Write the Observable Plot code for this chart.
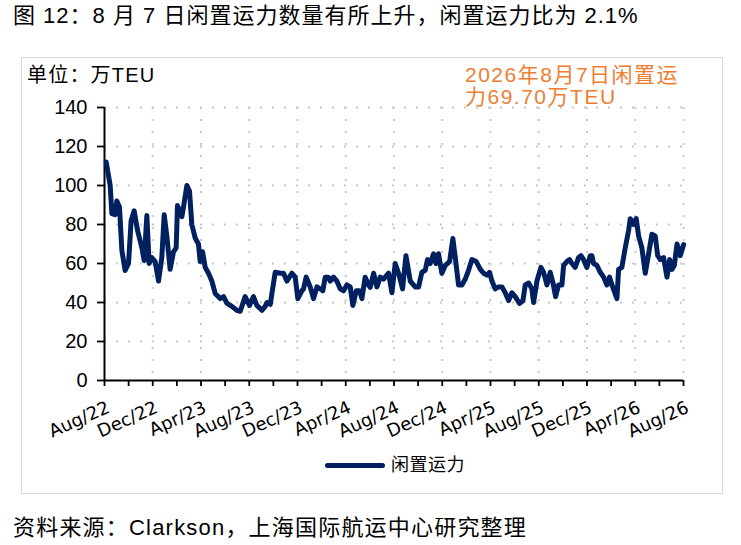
<!DOCTYPE html>
<html>
<head>
<meta charset="utf-8">
<script src="https://cdn.jsdelivr.net/npm/d3@7"></script>
<script src="https://cdn.jsdelivr.net/npm/@observablehq/plot@0.6"></script>
<style>
  html, body { margin: 0; padding: 0; background: #fff; }
  #page { position: relative; width: 741px; height: 545px; background: #fff; overflow: hidden;
          font-family: "Liberation Sans", "Noto Sans CJK SC", sans-serif; color: #000; }
  .abs { position: absolute; white-space: nowrap; }
</style>
</head>
<body>
<div id="page">
  <div class="abs" id="title" style="left:13px;top:4px;font-size:22px;line-height:24px;letter-spacing:1px;">图 12：8 月 7 日闲置运力数量有所上升，闲置运力比为 2.1%</div>
  <div class="abs" id="box" style="left:21px;top:57px;width:700px;height:435px;border:1px solid #d9d9d9;"></div>
  <div class="abs" id="chart" style="left:0;top:57px;"></div>
  <div class="abs" id="unit" style="left:27px;top:64px;font-size:20px;line-height:22px;letter-spacing:1.2px;">单位：万TEU</div>
  <div class="abs" id="anno1" style="left:465px;top:64px;font-size:21px;line-height:22px;letter-spacing:1.5px;color:#ED7D31;">2026年8月7日闲置运</div>
  <div class="abs" id="anno2" style="left:465px;top:86px;font-size:21px;line-height:22px;letter-spacing:1.5px;color:#ED7D31;">力69.70万TEU</div>
  <div class="abs" id="legend" style="left:325px;top:452px;height:24px;font-size:18px;line-height:24px;letter-spacing:0.5px;">
    <span style="display:inline-block;width:60px;height:5px;border-radius:3px;background:#002060;vertical-align:middle;margin-right:6px;"></span><span style="vertical-align:middle;">闲置运力</span>
  </div>
  <div class="abs" id="source" style="left:13px;top:516px;font-size:22px;line-height:24px;letter-spacing:1.2px;">资料来源：Clarkson，上海国际航运中心研究整理</div>
</div>
<script>
// months since Aug 2022 (weekly readings)
const months = [
  0.14,0.47,0.61,0.88,1.02,1.24,1.44,1.71,1.99,2.21,2.46,2.74,3.10,3.29,3.51,3.70,3.92,4.20,4.48,4.75,
  4.95,5.17,5.44,5.72,5.94,6.05,6.41,6.55,6.83,7.05,7.24,7.52,7.79,7.93,8.13,8.35,8.62,8.90,9.18,9.59,
  9.87,10.14,10.56,10.97,11.25,11.66,12.02,12.35,12.63,13.05,13.32,13.46,13.74,14.15,14.57,14.84,15.12,15.53,15.81,16.03,
  16.36,16.50,16.72,17.05,17.33,17.61,17.88,18.10,18.30,18.57,18.71,18.99,19.26,19.54,19.82,20.09,20.37,20.59,20.87,21.14,
  21.34,21.61,21.89,
  22.03,22.31,22.58,22.86,23.13,23.55,23.83,24.10,24.38,24.71,24.99,25.35,25.76,26.04,26.31,26.59,26.78,27.00,27.28,27.47,
  27.69,27.97,28.25,28.61,28.88,29.08,29.35,29.63,29.91,30.18,30.46,30.82,31.16,31.43,31.71,31.92,32.12,32.39,32.67,32.95,
  33.22,33.50,33.77,34.05,34.41,34.69,34.88,35.16,35.43,35.57,35.85,36.18,36.40,36.68,36.95,37.18,37.40,37.64,37.92,38.06,
  38.33,38.55,38.75,39.02,39.30,39.50,39.71,39.99,40.27,40.41,40.55,40.82,41.10,41.38,41.65,41.87,42.07,42.48,42.62,42.89,
  43.17,43.45,43.59,43.86,44.08,44.28,44.55,44.83,45.11,45.38,45.66,45.86,46.08,46.35,46.63,46.85,47.04,47.24,47.46,47.73,
  48.01
];
// idle capacity, 万TEU
const idle = [
  112,100,85.6,85,92,89,66.7,56.4,60,82,87,77,68,61.5,84.6,60,63,61,51,63,
  85,74,57,66,68,89.7,84,89,100,97,80,73,70,61,66,58,55,51,44.6,42,
  43,39.7,38,36,35.5,43,38.5,43,38.5,36,38,40,39,55.5,55,55,51,55,53,42,
  46,47,53,48,42,48,47,46,53,53,51,53,51,47,46,49,48,38.5,46,46,
  42,53,49,
  47.8,55,48,53,52,55,45,60,55,47,64,51,48,48,55.5,56.5,62,60,65,60,
  65,55,59,61,72.8,63,49,49,52,56.5,62,61,57,55,54,55.5,51,47,48,48,
  45,41,45,43,39.5,41,49,50,47,40,51,58,55.5,49,55.5,50,43,49,49,59,
  61,62,60,58,63,64,62,58,64,64,60,59,55.5,53,49,53,49,42,57,58,
  68,77,83,80,83,74,68,55,65,75,74,64,62,63,53,62,57,59,70,64,
  69.7
];
const xTickMonths = [0,4,8,12,16,20,24,28,32,36,40,44,48];
const xTickLabels = ["Aug/22","Dec/22","Apr/23","Aug/23","Dec/23","Apr/24","Aug/24","Dec/24","Apr/25","Aug/25","Dec/25","Apr/26","Aug/26"];
const xMinorTicks = d3.range(0, 49, 2);
const yTicks = [0,20,40,60,80,100,120,140];

const data = months.map((m, i) => ({m, v: idle[i]}));

const chart = Plot.plot({
  width: 741,
  height: 436,
  marginLeft: 104,
  marginRight: 58,
  marginTop: 50,
  marginBottom: 113,
  style: {fontFamily: '"Liberation Sans", "Noto Sans CJK SC", sans-serif', color: "#000", background: "transparent", overflow: "visible"},
  x: {domain: [0, 48], axis: null},
  y: {domain: [0, 140], axis: null},
  marks: [
    Plot.ruleY(yTicks.slice(1), {stroke: "#c8c8c8", strokeWidth: 2, strokeDasharray: "2,10"}),
    Plot.ruleX(xTickMonths.slice(1), {stroke: "#c8c8c8", strokeWidth: 2, strokeDasharray: "2,10"}),
    Plot.axisY({ticks: yTicks, label: null, tickSize: 7, tickPadding: 10, fontSize: 20, strokeWidth: 1.8, tickFormat: d => String(d)}),
    Plot.axisX({ticks: xMinorTicks, label: null, tickSize: 6, strokeWidth: 1.8, tickFormat: () => ""}),
    Plot.ruleX([0], {stroke: "#000", strokeWidth: 2}),
    Plot.ruleY([0], {stroke: "#000", strokeWidth: 2}),
    Plot.line(data, {x: "m", y: "v", stroke: "#002060", strokeWidth: 5, strokeLinejoin: "round", strokeLinecap: "round"}),
    Plot.text(xTickMonths, {
      x: d => d, y: 0, text: (d, i) => xTickLabels[i],
      rotate: -24, textAnchor: "end", lineAnchor: "middle",
      dx: 4, dy: 26, fontSize: 18, fontFamily: "DejaVu Sans", fill: "#000"
    })
  ]
});
document.getElementById("chart").appendChild(chart);
</script>
</body>
</html>
